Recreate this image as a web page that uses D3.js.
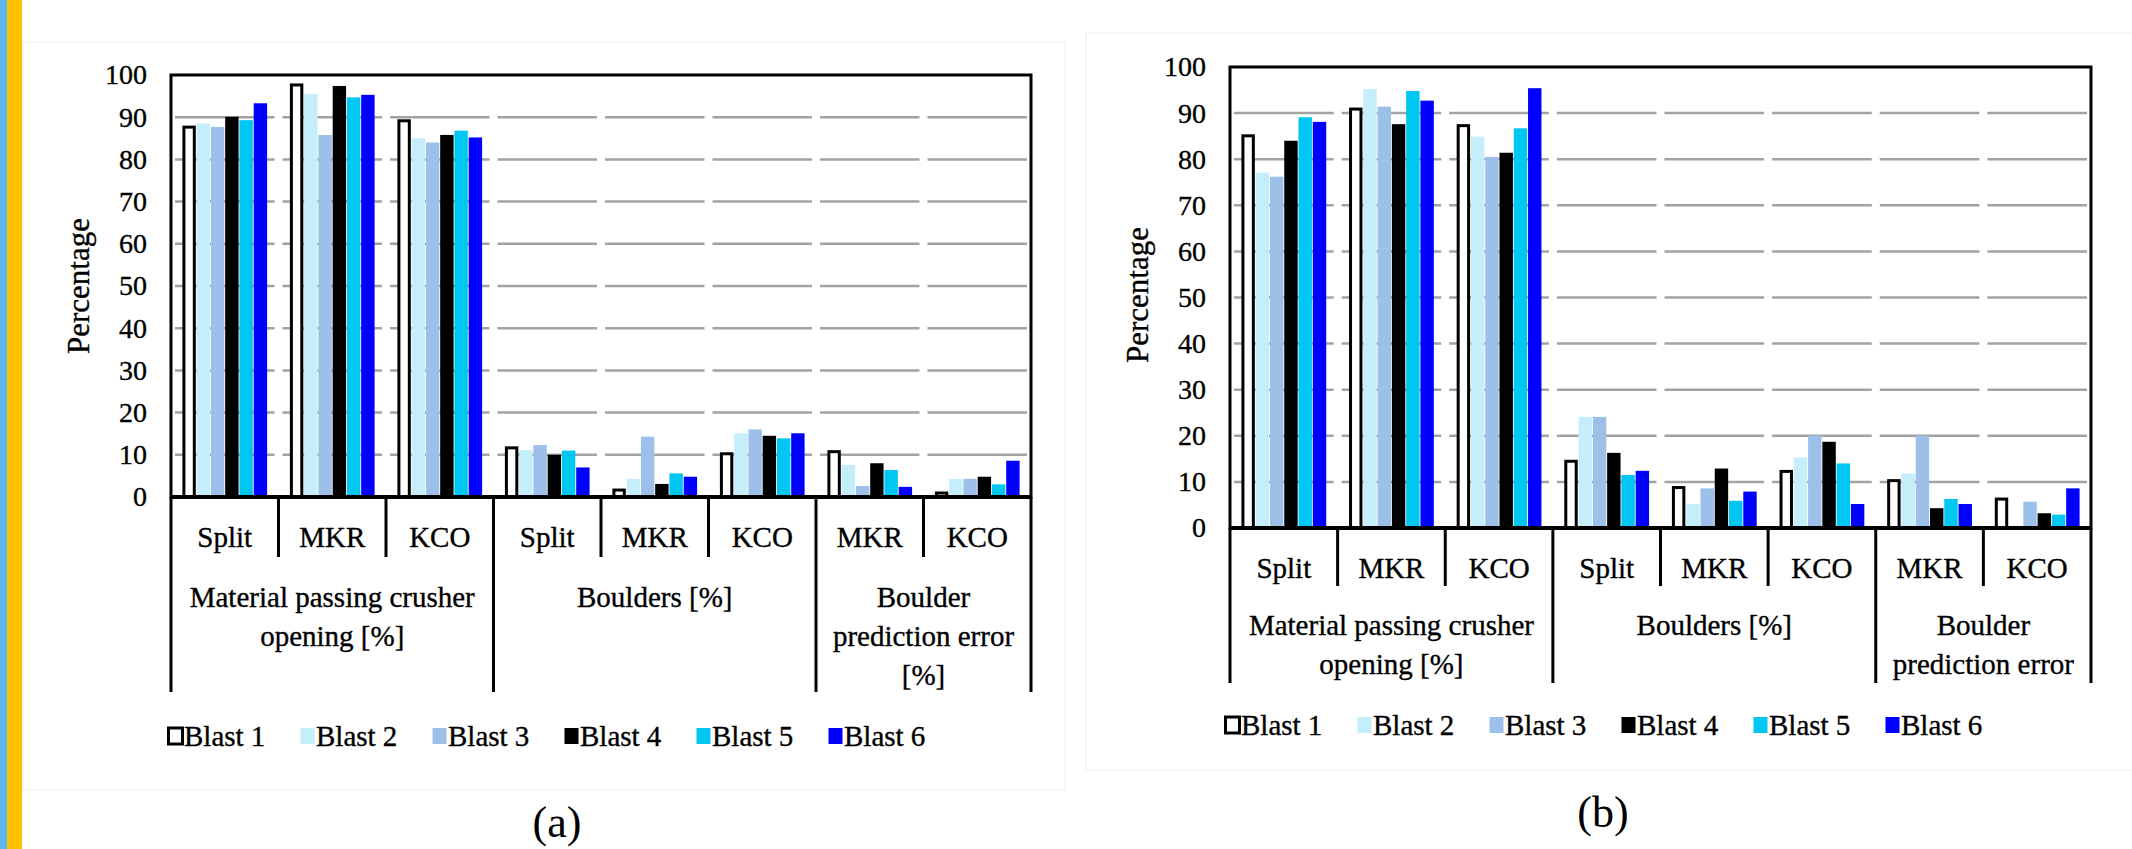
<!DOCTYPE html>
<html>
<head>
<meta charset="utf-8">
<script src="https://cdn.jsdelivr.net/npm/d3@7"></script>
<style>
  body { margin: 0; background: #fff; }
</style>
</head>
<body>
<div id="chart"></div>
<script>
var serif = "'Liberation Serif', 'Times New Roman', 'DejaVu Serif', serif";

// series names and colours
var blasts = ["Blast 1", "Blast 2", "Blast 3", "Blast 4", "Blast 5", "Blast 6"];
var colors = ["#ffffff", "#c4eefa", "#9cc0ea", "#000000", "#00c6f2", "#0000ff"];

// lower level categories and the groups above them
var categories = ["Split", "MKR", "KCO", "Split", "MKR", "KCO", "MKR", "KCO"];
var groupSizes = [3, 3, 2];
var groupLabelsA = [["Material passing crusher", "opening [%]"], ["Boulders [%]"], ["Boulder", "prediction error", "[%]"]];
var groupLabelsB = [["Material passing crusher", "opening [%]"], ["Boulders [%]"], ["Boulder", "prediction error"]];
var yTicks = [0, 10, 20, 30, 40, 50, 60, 70, 80, 90, 100];

// values per blast, one per category  (panel a)
var panelA = [
  [88, 98, 89.5, 12, 2, 10.6, 11.1, 1.3],
  [88.5, 95.5, 85, 11.1, 4.3, 15.1, 7.6, 4.3],
  [87.7, 85.8, 84, 12.3, 14.3, 16, 2.6, 4.3],
  [90.1, 97.4, 85.8, 10, 3.1, 14.5, 8, 4.8],
  [89.3, 94.7, 86.8, 11, 5.6, 13.9, 6.4, 3],
  [93.3, 95.3, 85.2, 7, 4.8, 15.1, 2.4, 8.6]
];
// panel b
var panelB = [
  [85.4, 91.2, 87.6, 14.8, 9.1, 12.6, 10.6, 6.6],
  [77.1, 95.2, 84.9, 24.1, 5.2, 15.3, 11.8, 0],
  [76.2, 91.4, 80.5, 24.1, 8.6, 20, 20, 5.7],
  [84, 87.6, 81.4, 16.3, 12.9, 18.7, 4.3, 3.2],
  [89.1, 94.8, 86.7, 11.5, 5.9, 14, 6.3, 2.9],
  [88.1, 92.7, 95.4, 12.4, 7.9, 5.2, 5.2, 8.6]
];

var svg = d3.select("#chart").append("svg")
    .attr("width", 2132)
    .attr("height", 849);

svg.append("rect").attr("width", 2132).attr("height", 849).attr("fill", "#fff");

// coloured stripes on the left edge
svg.append("rect").attr("x", 0).attr("y", 0).attr("width", 7).attr("height", 849).attr("fill", "#5cb6f0");
svg.append("rect").attr("x", 7).attr("y", 0).attr("width", 15).attr("height", 849).attr("fill", "#ffc000");

// faint panel frames
svg.append("rect").attr("x", 23).attr("y", 42).attr("width", 1042).attr("height", 748)
    .attr("fill", "none").attr("stroke", "#f3f3f3").attr("stroke-width", 1.5);
svg.append("rect").attr("x", 1086).attr("y", 33).attr("width", 1060).attr("height", 737)
    .attr("fill", "none").attr("stroke", "#f3f3f3").attr("stroke-width", 1.5);

function label(sel, size) {
  return sel
      .style("font-family", serif)
      .style("font-size", size + "px")
      .attr("fill", "#000")
      .attr("stroke", "#000")
      .attr("stroke-width", 0.35);
}

function drawPanel(p) {
  var g = svg.append("g");

  var x0 = d3.scaleBand()
      .domain(d3.range(categories.length))
      .range([p.left, p.right]);
  var x1 = d3.scaleBand()
      .domain(blasts)
      .range([0, x0.bandwidth()])
      .paddingInner(0.06)
      .paddingOuter(0.8);
  var y = d3.scaleLinear()
      .domain([0, 100])
      .range([p.zero, p.top]);

  // gridlines, broken at each category boundary
  categories.forEach(function(c, i) {
    g.selectAll(null)
        .data(yTicks.filter(function(t) { return t > 0 && t < 100; }))
      .enter().append("line")
        .attr("x1", x0(i) + 4)
        .attr("x2", x0(i) + x0.bandwidth() - 4)
        .attr("y1", function(d) { return y(d); })
        .attr("y2", function(d) { return y(d); })
        .attr("stroke", "#a3a3a3")
        .attr("stroke-width", 2.5);
  });

  // bars
  p.values.forEach(function(series, s) {
    g.selectAll(null)
        .data(series)
      .enter().append("rect")
        .attr("x", function(d, i) { return x0(i) + x1(blasts[s]) + (s === 0 ? 1.5 : 0); })
        .attr("width", x1.bandwidth() - (s === 0 ? 3 : 0))
        .attr("y", function(d) { return y(d) + (s === 0 ? 1.5 : 0); })
        .attr("height", function(d) { return Math.max(0, p.zero - y(d) - (s === 0 ? 1.5 : 0)); })
        .attr("fill", colors[s])
        .attr("stroke", s === 0 ? "#000" : "none")
        .attr("stroke-width", 3);
  });

  // frame
  g.append("rect")
      .attr("x", p.left).attr("y", p.top)
      .attr("width", p.right - p.left).attr("height", p.zero - p.top)
      .attr("fill", "none").attr("stroke", "#000").attr("stroke-width", 3);
  g.append("line")
      .attr("x1", p.left).attr("x2", p.right)
      .attr("y1", p.zero).attr("y2", p.zero)
      .attr("stroke", "#000").attr("stroke-width", 4);

  // y axis labels
  var yAxis = g.append("g")
      .attr("transform", "translate(" + p.left + ",0)")
      .call(d3.axisLeft(y).tickValues(yTicks).tickSize(0).tickPadding(24));
  yAxis.select(".domain").remove();
  yAxis.attr("font-family", null).attr("font-size", null);
  label(yAxis.selectAll("text"), 28);

  label(g.append("text"), 31)
      .attr("transform", "translate(" + p.ylabelX + "," + p.ylabelY + ") rotate(-90)")
      .attr("text-anchor", "middle")
      .attr("dominant-baseline", "central")
      .text("Percentage");

  // category separators: short ones inside a group, long ones between groups
  var bounds = [0];
  groupSizes.forEach(function(n) { bounds.push(bounds[bounds.length - 1] + n); });
  d3.range(categories.length + 1).forEach(function(i) {
    var xx = i < categories.length ? x0(i) : p.right;
    var long = bounds.indexOf(i) >= 0;
    g.append("line")
        .attr("x1", xx).attr("x2", xx)
        .attr("y1", p.zero)
        .attr("y2", long ? p.majorEnd : p.subEnd)
        .attr("stroke", "#000").attr("stroke-width", 3);
  });

  // category labels
  label(g.selectAll(null)
      .data(categories)
    .enter().append("text"), 29)
      .attr("x", function(d, i) { return x0(i) + x0.bandwidth() / 2; })
      .attr("y", p.zero + 40)
      .attr("text-anchor", "middle")
      .attr("dominant-baseline", "central")
      .text(function(d) { return d; });

  // group labels
  p.groups.forEach(function(lines, k) {
    var cx = (x0(bounds[k]) + (bounds[k + 1] < categories.length ? x0(bounds[k + 1]) : p.right)) / 2;
    lines.forEach(function(line, j) {
      label(g.append("text"), 29)
          .attr("x", cx)
          .attr("y", p.zero + p.groupOffset + j * 39)
          .attr("text-anchor", "middle")
          .attr("dominant-baseline", "central")
          .text(line);
    });
  });

  // legend
  var lx = d3.scaleLinear().domain([0, blasts.length - 1]).range([p.legendStart, p.legendStart + 5 * 132]);
  blasts.forEach(function(b, s) {
    g.append("rect")
        .attr("x", lx(s) + 1.5).attr("y", p.legendY - 8)
        .attr("width", 14).attr("height", 16)
        .attr("fill", colors[s])
        .attr("stroke", s === 0 ? "#000" : "none")
        .attr("stroke-width", 3);
    label(g.append("text"), 29)
        .attr("x", lx(s) + 17)
        .attr("y", p.legendY)
        .attr("dominant-baseline", "central")
        .text(b);
  });

  label(g.append("text"), 44)
      .attr("stroke-width", 0)
      .attr("x", p.tagX).attr("y", p.tagY)
      .attr("text-anchor", "middle")
      .attr("dominant-baseline", "central")
      .text(p.tag);
}

drawPanel({
  values: panelA, groups: groupLabelsA,
  left: 171, right: 1031, top: 75, zero: 497,
  subEnd: 557, majorEnd: 692, groupOffset: 100,
  ylabelX: 78, ylabelY: 286,
  legendStart: 167, legendY: 736,
  tag: "(a)", tagX: 557, tagY: 822
});

drawPanel({
  values: panelB, groups: groupLabelsB,
  left: 1230, right: 2091, top: 67, zero: 528,
  subEnd: 586, majorEnd: 683, groupOffset: 97,
  ylabelX: 1137, ylabelY: 295,
  legendStart: 1224, legendY: 725,
  tag: "(b)", tagX: 1603, tagY: 812
});
</script>
</body>
</html>
